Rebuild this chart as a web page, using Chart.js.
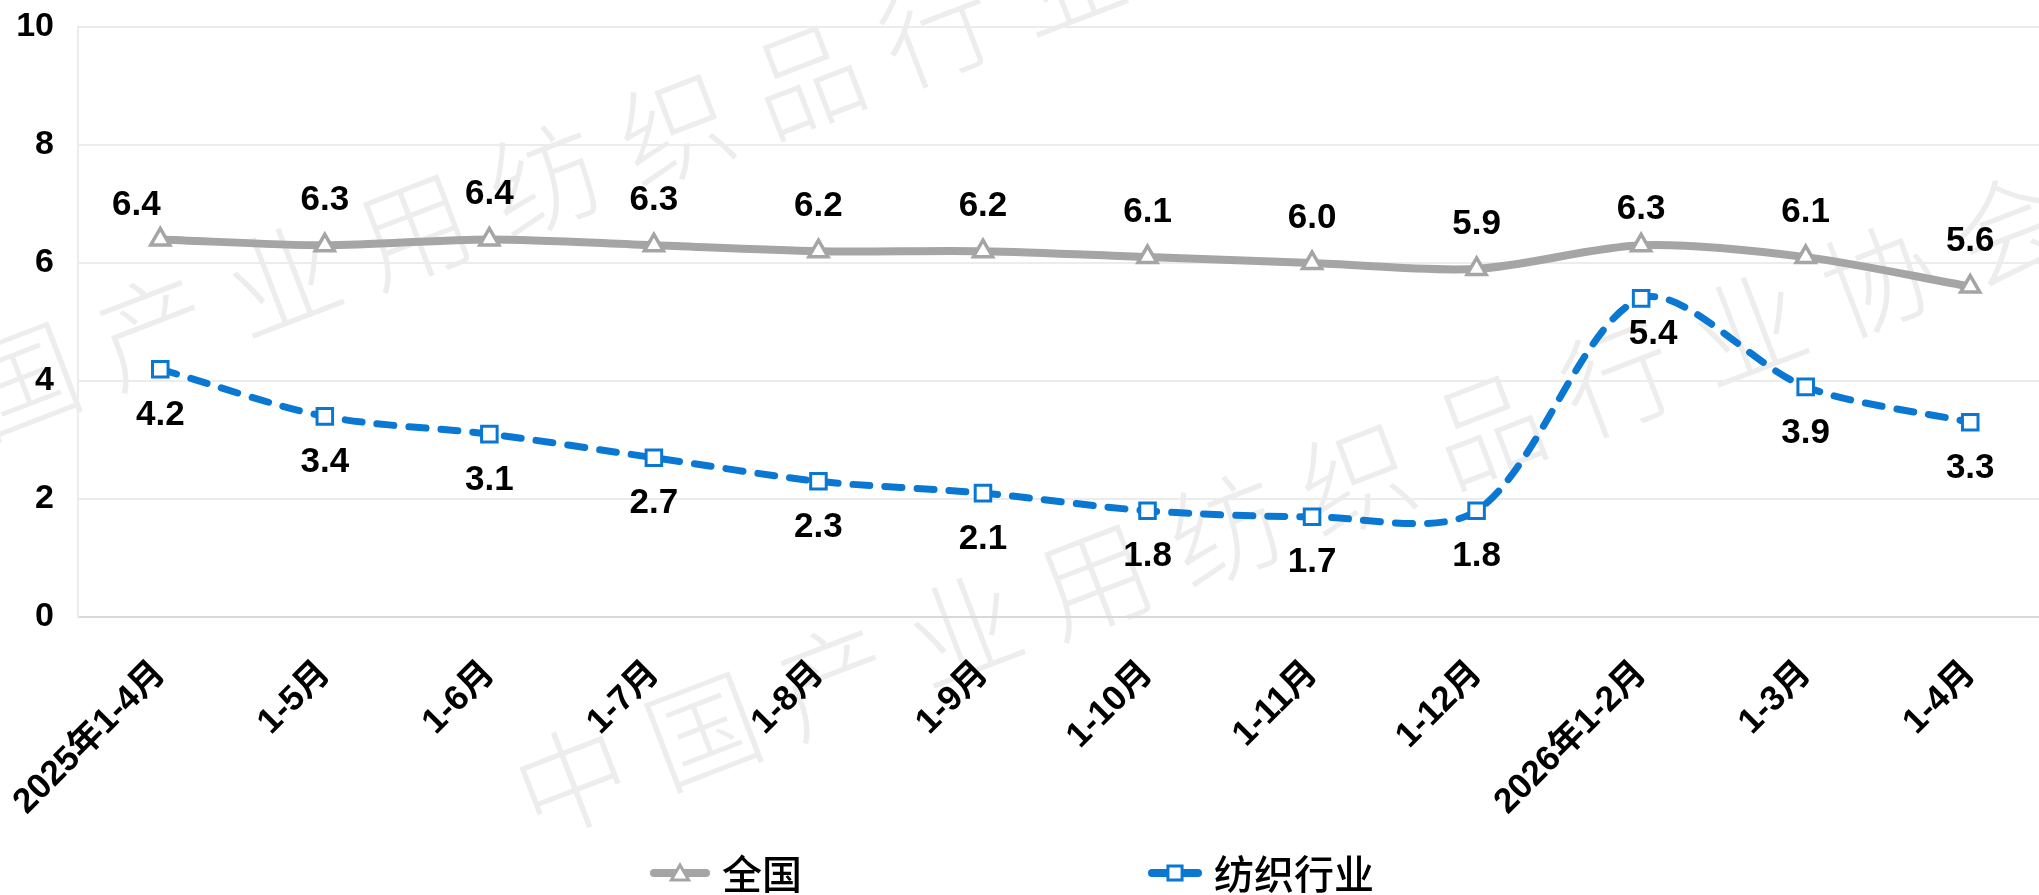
<!DOCTYPE html>
<html><head><meta charset="utf-8">
<script src="https://cdn.jsdelivr.net/npm/chart.js@4/dist/chart.umd.min.js"></script>
<style>
html,body{margin:0;padding:0;background:#fff;overflow:hidden;}
#wrap{position:relative;width:2039px;height:895px;overflow:hidden;}
canvas{display:block;}
</style></head><body>
<div id="wrap"><canvas id="c" width="2067" height="895"></canvas></div>
<script>
const categories = ['2025年1-4月','1-5月','1-6月','1-7月','1-8月','1-9月','1-10月','1-11月','1-12月','2026年1-2月','1-3月','1-4月'];
const nationalValues = [6.4,6.3,6.4,6.3,6.2,6.2,6.1,6.0,5.9,6.3,6.1,5.6];
const textileValues = [4.2,3.4,3.1,2.7,2.3,2.1,1.8,1.7,1.8,5.4,3.9,3.3];
const seriesNames = ['全国','纺织行业'];
const yTicks = [0,2,4,6,8,10];
const watermarkText = '中国产业用纺织品行业协会';

const LATIN = '"Liberation Sans", Arial, "Noto Sans CJK SC", sans-serif';
const CJK = '"Noto Sans CJK SC", "Liberation Sans", sans-serif';
const GRAY = '#a5a5a5';
const BLUE = '#0a78d2';

const watermarkPlugin = {
  id: 'watermark',
  beforeDraw(chart) {
    const ctx = chart.ctx;
    ctx.save();
    ctx.fillStyle = 'rgba(0,0,0,0.07)';
    ctx.font = '300 112px ' + CJK;
    ctx.textAlign = 'center';
    ctx.textBaseline = 'middle';
    const ang = -21 * Math.PI / 180;
    const step = 140;
    const starts = [[-109, 430], [572, 780]];
    starts.forEach(([sx, sy]) => {
      [...watermarkText].forEach((ch, i) => {
        const cx = sx + Math.cos(ang) * step * i;
        const cy = sy + Math.sin(ang) * step * i;
        ctx.save();
        ctx.translate(cx, cy);
        ctx.rotate(ang);
        ctx.fillText(ch, 0, 0);
        ctx.restore();
      });
    });
    ctx.restore();
  }
};

const valueLabelPlugin = {
  id: 'valueLabels',
  afterDatasetsDraw(chart) {
    const ctx = chart.ctx;
    ctx.save();
    ctx.font = 'bold 35px ' + LATIN;
    ctx.fillStyle = '#000';
    ctx.textAlign = 'center';
    ctx.textBaseline = 'middle';
    chart.data.datasets.forEach((ds, di) => {
      const meta = chart.getDatasetMeta(di);
      const adj = ds.labelAdjust || {};
      meta.data.forEach((pt, i) => {
        const [dx, dy] = adj[i] || [0, 0];
        ctx.fillText(ds.data[i].toFixed(1), pt.x + dx, pt.y + ds.labelOffset + dy);
      });
    });
    ctx.restore();
  }
};

function drawMarker(ctx, style, x, y, r, color, bw) {
  ctx.save();
  ctx.lineWidth = bw;
  ctx.strokeStyle = color;
  ctx.fillStyle = '#fff';
  ctx.beginPath();
  if (style === 'triangle') {
    for (let k = 0; k < 3; k++) {
      const a = k * 2 * Math.PI / 3;
      const px = x + Math.sin(a) * r, py = y - Math.cos(a) * r;
      if (k === 0) ctx.moveTo(px, py); else ctx.lineTo(px, py);
    }
    ctx.closePath();
  } else {
    const s = Math.SQRT1_2 * r;
    ctx.rect(x - s, y - s, 2 * s, 2 * s);
  }
  ctx.fill();
  ctx.stroke();
  ctx.restore();
}

const legendPlugin = {
  id: 'customLegend',
  afterDraw(chart) {
    const ctx = chart.ctx;
    const y = chart.height - 22;
    const left = chart.chartArea.left;
    const itemCenters = [left + 602, left + 1097];
    const lineW = [60, 54];
    ctx.save();
    chart.data.datasets.forEach((ds, i) => {
      const cx = itemCenters[i];
      const half = lineW[i] / 2;
      ctx.strokeStyle = ds.borderColor;
      ctx.lineWidth = 8;
      ctx.lineCap = 'round';
      ctx.beginPath();
      ctx.moveTo(cx - half + 4, y);
      ctx.lineTo(cx + half - 4, y);
      ctx.stroke();
      drawMarker(ctx, ds.pointStyle, cx, ds.pointStyle === 'triangle' ? y + 2 : y, 10, ds.borderColor, 3);
      ctx.fillStyle = '#000';
      ctx.font = '500 40px ' + CJK;
      ctx.textAlign = 'left';
      ctx.textBaseline = 'middle';
      ctx.fillText(ds.label, cx + half + 12, y + 1);
    });
    ctx.restore();
  }
};

const PLOT_BOTTOM = 617;
const PAD = { left: 16, top: 27, right: 2, bottom: 48 };

new Chart(document.getElementById('c'), {
  type: 'line',
  data: {
    labels: categories,
    datasets: [
      {
        label: seriesNames[0],
        data: nationalValues,
        borderColor: GRAY,
        borderWidth: 8,
        tension: 0.3,
        pointStyle: 'triangle',
        pointRadius: 11,
        pointBorderWidth: 3.5,
        pointBackgroundColor: '#fff',
        pointBorderColor: GRAY,
        labelOffset: -45,
        labelAdjust: { 0: [-24, 11], 9: [0, 9] }
      },
      {
        label: seriesNames[1],
        data: textileValues,
        borderColor: BLUE,
        borderWidth: 7,
        borderDash: [17, 15],
        borderCapStyle: 'round',
        tension: 0.3,
        pointStyle: 'rect',
        pointRadius: 11,
        pointBorderWidth: 3,
        pointBackgroundColor: '#fff',
        pointBorderColor: BLUE,
        labelOffset: 46,
        labelAdjust: { 9: [12, -10] }
      }
    ]
  },
  options: {
    responsive: false,
    maintainAspectRatio: false,
    animation: false,
    devicePixelRatio: 1,
    layout: { padding: PAD },
    plugins: { legend: { display: false }, tooltip: { enabled: false } },
    scales: {
      x: {
        type: 'category',
        offset: true,
        grid: { display: false, drawTicks: false },
        border: { display: true, color: '#d9d9d9', width: 2 },
        ticks: {
          autoSkip: false, maxRotation: 45, minRotation: 45, padding: 36,
          color: '#000', font: { family: LATIN, size: 35, weight: 'bold' }
        },
        afterFit: s => {
          s.height = 895 - PLOT_BOTTOM - PAD.bottom;
          s.paddingLeft = 0; s.paddingRight = 0; s.paddingTop = 0; s.paddingBottom = 0;
        }
      },
      y: {
        min: 0, max: 10,
        afterBuildTicks: axis => { axis.ticks = yTicks.map(v => ({ value: v })); },
        grid: { color: '#ececec', lineWidth: 2, drawTicks: false },
        border: { display: true, color: '#ececec', width: 2 },
        ticks: { padding: 24, color: '#000', font: { family: LATIN, size: 34, weight: 'bold' } },
        afterFit: s => {
          s.width = 62;
          s.paddingLeft = 0; s.paddingRight = 0; s.paddingTop = 0; s.paddingBottom = 0;
        }
      }
    }
  },
  plugins: [watermarkPlugin, valueLabelPlugin, legendPlugin]
});
</script>
</body></html>
